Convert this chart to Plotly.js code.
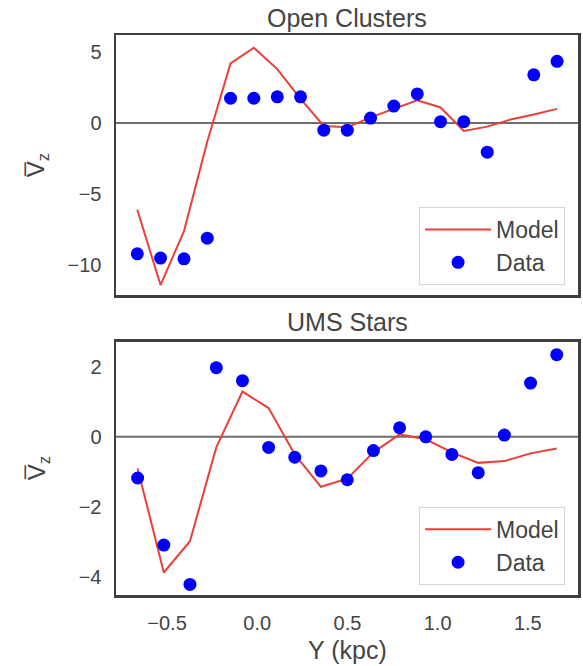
<!DOCTYPE html>
<html>
<head>
<meta charset="utf-8">
<script src="https://cdn.plot.ly/plotly-3.0.1.min.js"></script>
<style>html,body{margin:0;padding:0;background:#fff;}#chart{width:583px;height:666px;}</style>
</head>
<body>
<div id="chart"></div>
<script>
// Open Clusters panel
const ocModelY_x = [-0.665, -0.536, -0.406, -0.277, -0.148, -0.019, 0.111, 0.240, 0.369, 0.499, 0.628, 0.757, 0.887, 1.016, 1.145, 1.275, 1.404, 1.533, 1.662];
const ocModelVz = [-6.1, -11.4, -7.6, -1.3, 4.2, 5.3, 3.8, 1.7, -0.2, -0.3, 0.4, 1.0, 1.6, 1.1, -0.55, -0.25, 0.25, 0.6, 1.0];
const ocDataY_x = [-0.665, -0.536, -0.406, -0.277, -0.148, -0.019, 0.111, 0.240, 0.369, 0.499, 0.628, 0.757, 0.887, 1.016, 1.145, 1.275, 1.533, 1.662];
const ocDataVz = [-9.2, -9.5, -9.55, -8.1, 1.75, 1.75, 1.85, 1.85, -0.5, -0.5, 0.35, 1.2, 2.05, 0.1, 0.1, -2.05, 3.4, 4.35];

// UMS Stars panel
const umsY_x = [-0.663, -0.518, -0.373, -0.227, -0.082, 0.063, 0.208, 0.353, 0.499, 0.644, 0.789, 0.934, 1.079, 1.225, 1.370, 1.515, 1.660];
const umsModelVz = [-0.9, -3.86, -2.97, -0.3, 1.29, 0.82, -0.5, -1.42, -1.19, -0.44, 0.07, -0.07, -0.44, -0.74, -0.69, -0.47, -0.33];
const umsDataVz = [-1.17, -3.08, -4.2, 1.97, 1.6, -0.3, -0.58, -0.97, -1.22, -0.39, 0.26, 0.0, -0.5, -1.02, 0.05, 1.53, 2.34];

const xTicks = [-0.5, 0.0, 0.5, 1.0, 1.5];
const ocYTicks = [-10, -5, 0, 5];
const umsYTicks = [-4, -2, 0, 2];
const panelTitles = ["Open Clusters", "UMS Stars"];
const seriesNames = ["Model", "Data"];

const red = '#e8403a';
const blue = '#0000ff';
const textColor = '#444444';
const fontFam = 'Arial, "Liberation Sans", sans-serif';

const traces = [
  {x: ocModelY_x, y: ocModelVz, type: 'scatter', mode: 'lines', name: seriesNames[0],
   line: {color: red, width: 2}, xaxis: 'x', yaxis: 'y', legend: 'legend'},
  {x: ocDataY_x, y: ocDataVz, type: 'scatter', mode: 'markers', name: seriesNames[1],
   marker: {color: blue, size: 13}, xaxis: 'x', yaxis: 'y', legend: 'legend'},
  {x: umsY_x, y: umsModelVz, type: 'scatter', mode: 'lines', name: seriesNames[0],
   line: {color: red, width: 2}, xaxis: 'x2', yaxis: 'y2', legend: 'legend2'},
  {x: umsY_x, y: umsDataVz, type: 'scatter', mode: 'markers', name: seriesNames[1],
   marker: {color: blue, size: 13}, xaxis: 'x2', yaxis: 'y2', legend: 'legend2'}
];

const frame = {showline: true, mirror: true, linecolor: '#3f3f3f', linewidth: 2.5,
  showgrid: false, zeroline: false, ticks: 'outside', ticklen: 8, tickcolor: 'rgba(0,0,0,0)',
  tickfont: {size: 20, color: textColor, family: fontFam}};

const legendBase = {xanchor: 'right', yanchor: 'bottom', bgcolor: 'rgba(255,255,255,0.85)',
  bordercolor: '#d6d6d6', borderwidth: 1, font: {size: 23, color: textColor, family: fontFam},
  tracegroupgap: 0, itemwidth: 66};

const layout = {
  width: 583, height: 666,
  margin: {l: 116, r: 5, t: 35, b: 71},
  paper_bgcolor: '#ffffff', plot_bgcolor: '#ffffff',
  font: {family: fontFam, color: textColor},
  showlegend: true,
  xaxis: Object.assign({}, frame, {domain: [0, 1], anchor: 'y', range: [-0.783, 1.778],
    tickvals: xTicks, showticklabels: false}),
  yaxis: Object.assign({}, frame, {domain: [0.5357, 1], anchor: 'x', range: [-12.1, 6.2],
    tickvals: ocYTicks}),
  xaxis2: Object.assign({}, frame, {domain: [0, 1], anchor: 'y2', range: [-0.783, 1.778],
    tickvals: xTicks, tickformat: '.1f'}),
  yaxis2: Object.assign({}, frame, {domain: [0, 0.4518], anchor: 'x2', range: [-4.5, 2.7],
    tickvals: umsYTicks}),
  legend: Object.assign({}, legendBase, {x: 0.972, y: 0.5536}),
  legend2: Object.assign({}, legendBase, {x: 0.972, y: 0.018}),
  shapes: [
    {type: 'line', xref: 'x domain', yref: 'y', x0: 0, x1: 1, y0: 0, y1: 0,
     line: {color: '#6e6e6e', width: 2}, layer: 'below'},
    {type: 'line', xref: 'x2 domain', yref: 'y2', x0: 0, x1: 1, y0: 0, y1: 0,
     line: {color: '#6e6e6e', width: 2}, layer: 'below'}
  ],
  annotations: [
    {text: panelTitles[0], xref: 'paper', yref: 'paper', x: 0.5, y: 1.030, xanchor: 'center', yanchor: 'middle',
     showarrow: false, font: {size: 25, color: textColor, family: fontFam}},
    {text: panelTitles[1], xref: 'paper', yref: 'paper', x: 0.5, y: 0.4875, xanchor: 'center', yanchor: 'middle',
     showarrow: false, font: {size: 25, color: textColor, family: fontFam}},
    {text: 'V\u0305<sub>z</sub>', xref: 'paper', yref: 'paper', x: -0.168, y: 0.768, xanchor: 'center', yanchor: 'middle',
     textangle: -90, showarrow: false, font: {size: 24, color: textColor, family: fontFam}},
    {text: 'V\u0305<sub>z</sub>', xref: 'paper', yref: 'paper', x: -0.168, y: 0.227, xanchor: 'center', yanchor: 'middle',
     textangle: -90, showarrow: false, font: {size: 24, color: textColor, family: fontFam}},
    {text: 'Y (kpc)', xref: 'paper', yref: 'paper', x: 0.5, y: -0.098, xanchor: 'center', yanchor: 'middle',
     showarrow: false, font: {size: 25, color: textColor, family: fontFam}}
  ]
};

Plotly.newPlot('chart', traces, layout, {displayModeBar: false, staticPlot: true});
</script>
</body>
</html>
